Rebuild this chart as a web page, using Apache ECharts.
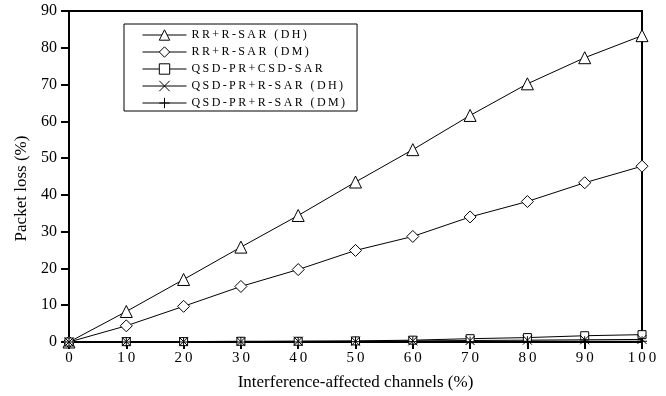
<!DOCTYPE html>
<html>
<head>
<meta charset="utf-8">
<script src="https://cdn.jsdelivr.net/npm/echarts@6/dist/echarts.min.js"></script>
<style>
  html, body { margin: 0; padding: 0; background: #fff; }
  #main { width: 666px; height: 396px; }
</style>
</head>
<body>
<div id="main"></div>
<script>
  // interference-affected channels (%)
  var channels = [0, 10, 20, 30, 40, 50, 60, 70, 80, 90, 100]

  // packet loss (%)
  var rrDH = [0, 8.3, 17.0, 25.8, 34.4, 43.5, 52.3, 61.6, 70.2, 77.3, 83.3]
  var rrDM = [0, 4.4, 9.7, 15.1, 19.7, 24.9, 28.7, 34.0, 38.2, 43.3, 47.8]
  var qsdCsd = [0, 0.1, 0.1, 0.2, 0.2, 0.3, 0.5, 0.9, 1.2, 1.7, 2.0]
  var qsdDH = [0, 0.1, 0.1, 0.1, 0.2, 0.2, 0.3, 0.4, 0.5, 0.6, 0.7]
  var qsdDM = [0, 0, 0, 0, 0, 0.1, 0.1, 0.1, 0.2, 0.2, 0.2]

  var names = ['RR+R-SAR (DH)', 'RR+R-SAR (DM)', 'QSD-PR+CSD-SAR', 'QSD-PR+R-SAR (DH)', 'QSD-PR+R-SAR (DM)']

  var font = '"Liberation Serif", "Times New Roman", serif'
  var spaced = function (s) { return String(s).split('').join('\u2009') }

  var pairs = function (vals) {
    return channels.map(function (c, i) { return [c, vals[i]] })
  }

  var mkSeries = function (name, vals, symbol, size) {
    return {
      name: name,
      type: 'line',
      data: pairs(vals),
      symbol: symbol,
      symbolSize: size,
      showAllSymbol: true,
      lineStyle: { color: '#000', width: 1 },
      itemStyle: { color: '#fff', borderColor: '#000', borderWidth: 1 }
    }
  }

  var chart = echarts.init(document.getElementById('main'))
  chart.setOption({
    animation: false,
    backgroundColor: '#fff',
    grid: {
      left: 69, right: 24, top: 11, bottom: 54,
      show: true, borderColor: '#000', borderWidth: 2
    },
    legend: {
      left: 124, top: 24,
      orient: 'vertical',
      padding: [5, 12, 2, 18],
      itemWidth: 44, itemHeight: 13, itemGap: 5,
      borderColor: '#000', borderWidth: 1,
      backgroundColor: '#fff',
      data: names,
      formatter: function (n) { return spaced(n) },
      itemStyle: { borderWidth: 1 },
      lineStyle: { width: 1 },
      textStyle: { fontFamily: font, fontSize: 12, color: '#000' }
    },
    xAxis: {
      type: 'value',
      min: 0, max: 100, interval: 10,
      name: 'Interference-affected channels (%)',
      nameLocation: 'middle',
      nameGap: 32,
      nameTextStyle: { fontFamily: font, fontSize: 17, color: '#000' },
      splitLine: { show: false },
      axisLine: { lineStyle: { color: '#000', width: 2 } },
      axisTick: { length: 7, lineStyle: { color: '#000', width: 2 } },
      axisLabel: {
        margin: 9, color: '#000', fontFamily: font, fontSize: 15,
        formatter: function (v) { return spaced(v) }
      }
    },
    yAxis: {
      type: 'value',
      min: 0, max: 90, interval: 10,
      name: 'Packet loss (%)',
      nameLocation: 'middle',
      nameGap: 36,
      nameTextStyle: { fontFamily: font, fontSize: 17, color: '#000', padding: [0, 24, 0, 0] },
      splitLine: { show: false },
      axisLine: { lineStyle: { color: '#000', width: 2 } },
      axisTick: { length: 8, lineStyle: { color: '#000', width: 2 } },
      axisLabel: { margin: 12, color: '#000', fontFamily: font, fontSize: 16 }
    },
    series: [
      mkSeries(names[0], rrDH, 'triangle', 12),
      mkSeries(names[1], rrDM, 'diamond', 12),
      mkSeries(names[2], qsdCsd, 'rect', 8),
      mkSeries(names[3], qsdDH, 'path://M0,0L10,10M0,10L10,0', 9),
      mkSeries(names[4], qsdDM, 'path://M5,0L5,10M0,5L10,5', 10)
    ]
  })
</script>
</body>
</html>
